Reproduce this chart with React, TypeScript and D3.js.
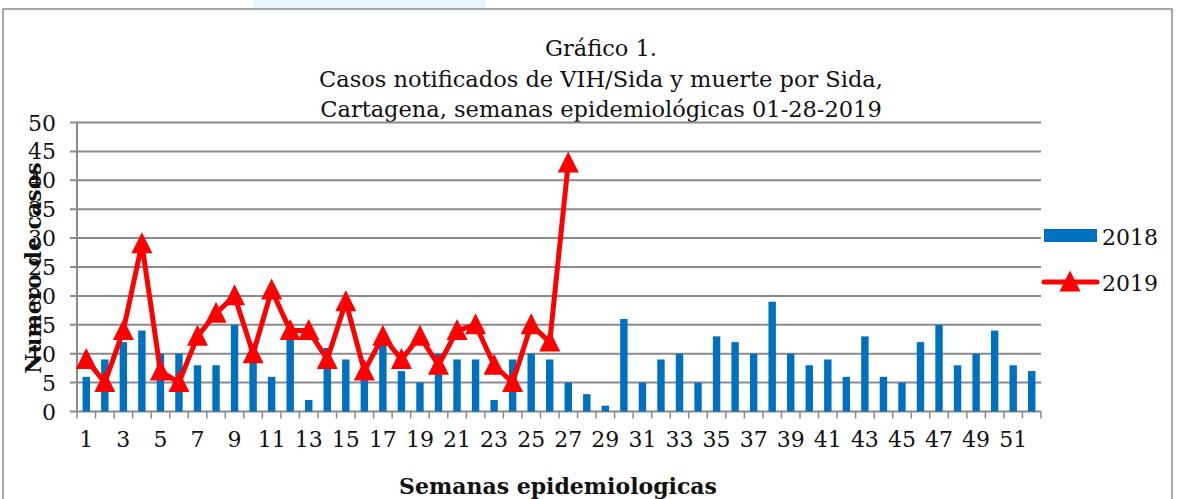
import React from 'react';
import * as d3 from 'd3';

// semanas epidemiologicas 1..52
const weeks = d3.range(1, 53);
const cases2018 = [6, 9, 12, 14, 10, 10, 8, 8, 15, 9, 6, 13, 2, 11, 9, 6, 12, 7, 5, 10, 9, 9, 2, 9, 10, 9, 5, 3, 1, 16, 5, 9, 10, 5, 13, 12, 10, 19, 10, 8, 9, 6, 13, 6, 5, 12, 15, 8, 10, 14, 8, 7];
const cases2019 = [9, 5, 14, 29, 7, 5, 13, 17, 20, 10, 21, 14, 14, 9, 19, 7, 13, 9, 13, 8, 14, 15, 8, 5, 15, 12, 43];
const yTicks = d3.range(0, 51, 5);
const titleLines = ['Gráfico 1.', 'Casos notificados de VIH/Sida y muerte por Sida,', 'Cartagena, semanas epidemiológicas 01-28-2019'];

const W = 1177;
const H = 499;
const margin = { left: 77, right: 136, top: 122.5, bottom: 87.5 };
const font = '"DejaVu Serif", serif';

const tri = (cx: number, cy: number, s: number) =>
  `M${cx},${cy - s * 0.55}L${cx + s / 2},${cy + s * 0.45}L${cx - s / 2},${cy + s * 0.45}Z`;

export default function App() {
  const x = d3.scaleBand<number>().domain(weeks).range([margin.left, W - margin.right]);
  const y = d3.scaleLinear().domain([0, 50]).range([H - margin.bottom, margin.top]);
  const barW = x.bandwidth() * 0.4;
  const line = d3.line<number>()
    .x((_, i) => x(weeks[i])! + x.bandwidth() / 2)
    .y(d => y(d));

  return (
    <div style={{ position: 'absolute', left: 0, top: 0 }}>
      <svg width={W} height={H} style={{ display: 'block', background: '#fff' }}>
        <rect x={253} y={0} width={233} height={8} fill="#e6f6fb" />
        <rect x={3} y={9} width={1169} height={495} fill="none" stroke="#8c8c8c" strokeWidth={1.5} />

        {titleLines.map((t, i) => (
          <text key={i} x={601} y={56 + i * 30.5} textAnchor="middle" fontFamily={font} fontSize={22.5} fill="#111">{t}</text>
        ))}

        {/* grid */}
        {yTicks.map(t => (
          <g key={t}>
            <line x1={margin.left - 7} x2={W - margin.right} y1={y(t)} y2={y(t)} stroke="#8a8a8a" strokeWidth={2} />
            <text x={56} y={y(t) + 8} textAnchor="end" fontFamily={font} fontSize={22} fill="#111">{t}</text>
          </g>
        ))}
        <line x1={margin.left} x2={margin.left} y1={margin.top} y2={y(0)} stroke="#8a8a8a" strokeWidth={2} />

        {/* x ticks */}
        {weeks.concat([53]).map((w, i) => {
          const xx = margin.left + i * x.step();
          return <line key={w} x1={xx} x2={xx} y1={y(0)} y2={y(0) + 7} stroke="#8a8a8a" strokeWidth={1.5} />;
        })}
        {weeks.filter(w => w % 2 === 1).map(w => (
          <text key={w} x={x(w)! + x.bandwidth() / 2} y={447} textAnchor="middle" fontFamily={font} fontSize={22} fill="#111">{w}</text>
        ))}

        {/* bars 2018 */}
        {cases2018.map((v, i) => (
          <rect key={i} x={x(weeks[i])! + (x.bandwidth() - barW) / 2} y={y(v)} width={barW} height={y(0) - y(v)} fill="#0070C0" />
        ))}

        {/* line 2019 */}
        <path d={line(cases2019) || ''} fill="none" stroke="#FF0000" strokeWidth={5} strokeLinejoin="round" />
        {cases2019.map((v, i) => (
          <path key={i} d={tri(x(weeks[i])! + x.bandwidth() / 2, y(v), 21)} fill="#FF0000" />
        ))}

        {/* axis titles */}
        <text transform={`translate(41,${268}) rotate(-90)`} textAnchor="middle" fontFamily={font} fontSize={22} fontWeight="bold" fill="#111">Numero de casos</text>
        <text x={558} y={494} textAnchor="middle" fontFamily={font} fontSize={22} fontWeight="bold" fill="#111">Semanas epidemiologicas</text>

        {/* legend */}
        <rect x={1044} y={229} width={53} height={13} fill="#0070C0" />
        <text x={1102} y={245} fontFamily={font} fontSize={22} fill="#111">2018</text>
        <line x1={1044} x2={1097} y1={282} y2={282} stroke="#FF0000" strokeWidth={5} strokeLinecap="round" />
        <path d={tri(1070, 282, 21)} fill="#FF0000" />
        <text x={1102} y={291} fontFamily={font} fontSize={22} fill="#111">2019</text>
      </svg>
    </div>
  );
}
